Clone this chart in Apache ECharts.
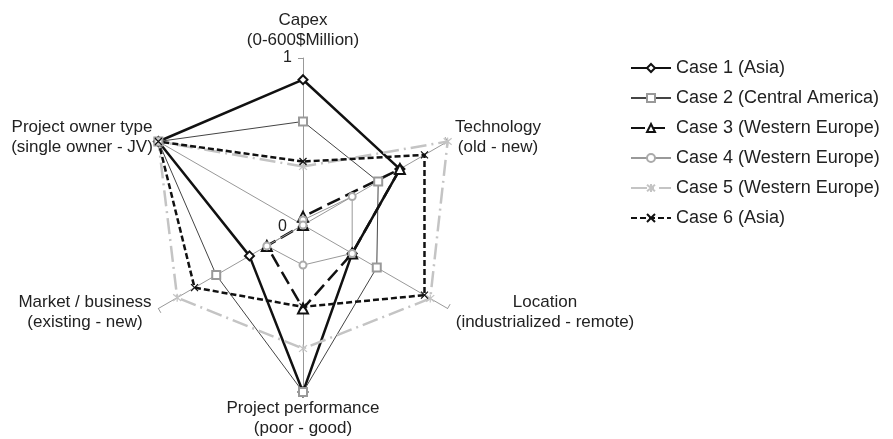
<!DOCTYPE html>
<html>
<head>
<meta charset="utf-8">
<script src="https://cdn.jsdelivr.net/npm/echarts@6/dist/echarts.min.js"></script>
<style>
  html, body { margin: 0; padding: 0; background: #fff; }
  #chart { width: 893px; height: 439px; }
</style>
</head>
<body>
<div id="chart"></div>
<script>
// axes, counter-clockwise from the top (echarts lays radar indicators out that way)
var axisNames = ['Capex', 'Project owner type', 'Market / business', 'Project performance', 'Location', 'Technology'];
var axisRanges = ['(0-600$Million)', '(single owner - JV)', '(existing - new)', '(poor - good)', '(industrialized - remote)', '(old - new)'];
var tickLabels = ['0', '1'];

var caseNames = [
  'Case 1 (Asia)',
  'Case 2 (Central America)',
  'Case 3 (Western Europe)',
  'Case 4 (Western Europe)',
  'Case 5 (Western Europe)',
  'Case 6 (Asia)'
];

// values in the axis order above
var case1 = [0.87, 1, 0.37, 1, 0.34, 0.67];
var case2 = [0.62, 1, 0.60, 1, 0.51, 0.52];
var case3 = [0.05, 0, 0.25, 0.50, 0.34, 0.67];
var case4 = [0.03, 0, 0.25, 0.24, 0.34, 0.34];
var case5 = [0.35, 1, 0.87, 0.74, 0.88, 1];
var case6 = [0.38, 1, 0.75, 0.49, 0.84, 0.84];
var caseValues = [case1, case2, case3, case4, case5, case6];

var font = '"Liberation Sans", Arial, sans-serif';
var xMark = 'path://M0,0L10,10M10,0L0,10';
var starMark = 'path://M0,0L10,10M10,0L0,10M5,-1L5,11';

var looks = [
  { line: '#111', width: 2.5, type: 'solid', symbol: 'emptyDiamond', mark: '#111', size: 9 },
  { line: '#444', width: 1, type: 'solid', symbol: 'emptyRect', mark: '#999', size: 8 },
  { line: '#111', width: 2.5, type: [14, 6], symbol: 'emptyTriangle', mark: '#111', size: 10 },
  { line: '#999', width: 1, type: 'solid', symbol: 'emptyCircle', mark: '#aaa', size: 7 },
  { line: '#c4c4c4', width: 2.5, type: [16, 5, 2, 5], symbol: starMark, mark: '#c4c4c4', size: 8 },
  { line: '#111', width: 2.5, type: [6, 3], symbol: xMark, mark: '#111', size: 7 }
];

// where the two-line axis titles sit
var titlePos = [[303, 30], [82, 137], [85, 312], [303, 418], [545, 312], [498, 137]];

var myChart = echarts.init(document.getElementById('chart'));

var series = [];
// empty line series only to get line + marker icons in the legend
caseNames.forEach(function (name, i) {
  var l = looks[i];
  series.push({
    name: name,
    type: 'line',
    data: [],
    symbol: l.symbol,
    symbolSize: l.size,
    lineStyle: { color: l.line, width: l.width, type: l.type },
    itemStyle: { color: l.mark, borderColor: l.mark, borderWidth: 1.5 }
  });
});
caseNames.forEach(function (name, i) {
  var l = looks[i];
  series.push({
    name: name,
    type: 'radar',
    symbol: l.symbol,
    symbolSize: l.size,
    lineStyle: { color: l.line, width: l.width, type: l.type },
    itemStyle: { color: l.mark, borderColor: l.mark, borderWidth: 1.2 },
    data: [{ name: name, value: caseValues[i] }]
  });
});

var graphics = axisNames.map(function (n, i) {
  return {
    type: 'text',
    x: titlePos[i][0],
    y: titlePos[i][1],
    style: {
      text: n + '\n' + axisRanges[i],
      fill: '#222',
      font: '17px ' + font,
      align: 'center', verticalAlign: 'middle',
      textAlign: 'center', textVerticalAlign: 'middle',
      lineHeight: 20
    }
  };
});
graphics.push({ type: 'text', x: 287, y: 227, style: { text: tickLabels[0], fill: '#222', font: '16px ' + font, align: 'right', verticalAlign: 'middle', textAlign: 'right', textVerticalAlign: 'middle' } });
graphics.push({ type: 'text', x: 292, y: 58, style: { text: tickLabels[1], fill: '#222', font: '16px ' + font, align: 'right', verticalAlign: 'middle', textAlign: 'right', textVerticalAlign: 'middle' } });

var option = {
  animation: false,
  backgroundColor: '#fff',
  grid: { show: false, left: 0, top: 0, width: 1, height: 1 },
  xAxis: { show: false, type: 'category', data: [] },
  yAxis: { show: false, type: 'value' },
  legend: {
    orient: 'vertical',
    left: 625,
    top: 54,
    itemWidth: 40,
    itemHeight: 10,
    itemGap: 12,
    data: caseNames,
    textStyle: { fontSize: 18, color: '#222', fontFamily: font }
  },
  radar: {
    center: [303, 225],
    radius: 167,
    startAngle: 90,
    splitNumber: 1,
    shape: 'polygon',
    indicator: axisNames.map(function (n) { return { name: n, min: 0, max: 1 }; }),
    axisName: { show: false },
    splitLine: { show: false },
    splitArea: { show: false },
    axisLine: { lineStyle: { color: '#999', width: 1 } },
    axisTick: { show: true, length: 5, lineStyle: { color: '#999' } }
  },
  graphic: graphics,
  series: series
};

myChart.setOption(option);
</script>
</body>
</html>
